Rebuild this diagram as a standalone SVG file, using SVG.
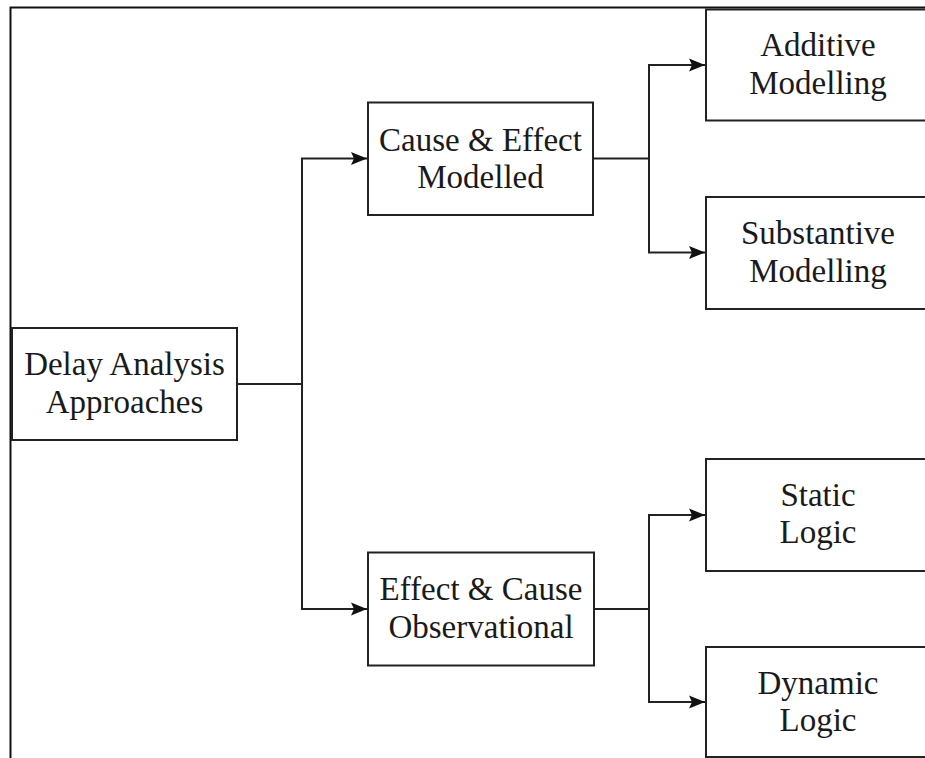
<svg xmlns="http://www.w3.org/2000/svg" width="925" height="758" viewBox="0 0 925 758">
<style>
.box{fill:#ffffff;stroke:#222222;stroke-width:2}
.lbl{font-family:"Liberation Serif","Times New Roman",serif;font-size:33px;fill:#1a1a1a;text-anchor:middle}
.conn{fill:none;stroke:#222222;stroke-width:2}
.frame{fill:none;stroke:#111111;stroke-width:2}
</style>
<defs>
<marker id="arrow" markerUnits="userSpaceOnUse" markerWidth="18" markerHeight="16" refX="16" refY="8" orient="auto">
<path d="M0,1.5 L16,8 L0,14.5 L3,8 Z" fill="#111111"/>
</marker>
</defs>
<rect width="925" height="758" fill="#ffffff"/>
<path class="frame" d="M10.5,758 V7.5 H925"/>
<g id="connectors">
<path class="conn" d="M237,384 H302 V158.5 H367" marker-end="url(#arrow)"/>
<path class="conn" d="M302,384 V609 H367" marker-end="url(#arrow)"/>
<path class="conn" d="M593,158.5 H649 V65 H705" marker-end="url(#arrow)"/>
<path class="conn" d="M649,158.5 V252.5 H705" marker-end="url(#arrow)"/>
<path class="conn" d="M594,609 H649 V515 H705" marker-end="url(#arrow)"/>
<path class="conn" d="M649,609 V702 H705" marker-end="url(#arrow)"/>
</g>
<g id="delay">
<rect class="box" x="12" y="328" width="225" height="112"/>
<text class="lbl" x="124.5" y="375">Delay Analysis</text>
<text class="lbl" x="124.5" y="413">Approaches</text>
</g>
<g id="cause-effect">
<rect class="box" x="368" y="102.5" width="225" height="112.5"/>
<text class="lbl" x="480.5" y="151">Cause &amp; Effect</text>
<text class="lbl" x="480.5" y="188">Modelled</text>
</g>
<g id="effect-cause">
<rect class="box" x="368" y="552.5" width="226" height="113"/>
<text class="lbl" x="481" y="600">Effect &amp; Cause</text>
<text class="lbl" x="481" y="638">Observational</text>
</g>
<g id="additive">
<rect class="box" x="706" y="9.5" width="224" height="111"/>
<text class="lbl" x="818" y="56">Additive</text>
<text class="lbl" x="818" y="94">Modelling</text>
</g>
<g id="substantive">
<rect class="box" x="706" y="197" width="224" height="112"/>
<text class="lbl" x="818" y="244">Substantive</text>
<text class="lbl" x="818" y="282">Modelling</text>
</g>
<g id="static">
<rect class="box" x="706" y="459" width="224" height="112"/>
<text class="lbl" x="818" y="506">Static</text>
<text class="lbl" x="818" y="543">Logic</text>
</g>
<g id="dynamic">
<rect class="box" x="706" y="647" width="224" height="110"/>
<text class="lbl" x="818" y="694">Dynamic</text>
<text class="lbl" x="818" y="731">Logic</text>
</g>
</svg>
